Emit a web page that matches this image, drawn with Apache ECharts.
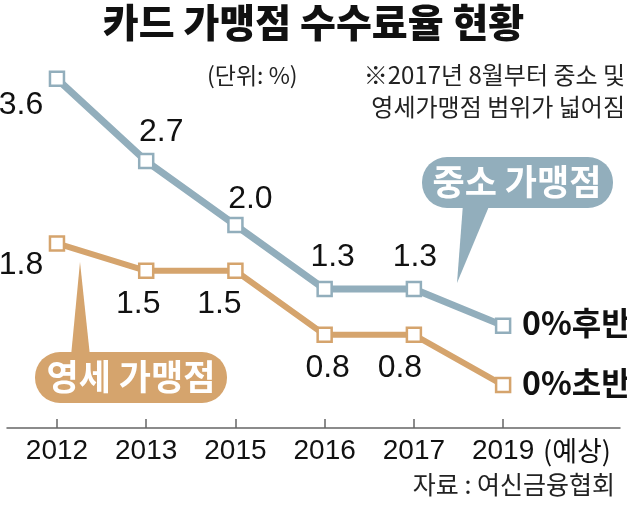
<!DOCTYPE html>
<html><head><meta charset="utf-8">
<script src="https://cdn.jsdelivr.net/npm/echarts@6/dist/echarts.min.js"></script>
<style>html,body{margin:0;padding:0;background:#fff}#c{width:627px;height:506px}</style>
</head><body><div id="c"></div>
<script>
const years = ['2012','2013','2015','2016','2017','2019'];
const midSizeValues = [3.6, 2.7, 2.0, 1.3, 1.3, 0.9];
const midSizeLabels = ['3.6','2.7','2.0','1.3','1.3','0%후반'];
const smallValues = [1.8, 1.5, 1.5, 0.8, 0.8, 0.25];
const smallLabels = ['1.8','1.5','1.5','0.8','0.8','0%초반'];

const BLUE = '#92aebc', ORANGE = '#d5a46d';
const KR = "'Noto Sans CJK KR', sans-serif";
const NUM = "'Liberation Sans', Arial, sans-serif";

const blueOffsets = [[-36,26],[15,-29],[15,-26],[8,-32],[1,-32],[19,-3]];
const orangeOffsets = [[-36,22],[-8,33],[-16,33],[3,33],[-14,33],[19,-2]];

function buildData(vals, labels, offs) {
  return vals.map((v, i) => {
    const last = i === vals.length - 1;
    return {
      value: [i, v],
      label: {
        show: true,
        position: 'inside',
        formatter: labels[i],
        offset: offs[i],
        align: last ? 'left' : 'center',
        verticalAlign: 'middle',
        color: '#111',
        fontSize: 32,
        fontWeight: last ? 'bold' : 'normal',
        fontFamily: last ? KR : NUM
      }
    };
  });
}

const chart = echarts.init(document.getElementById('c'));
chart.setOption({
  animation: false,
  backgroundColor: '#fff',
  title: {
    text: '카드 가맹점 수수료율 현황',
    left: 'center', top: -2,
    textStyle: { fontFamily: KR, fontSize: 39, fontWeight: 900, color: '#111' }
  },
  grid: { left: 7, right: 7, top: 42.3, bottom: 78, outerBoundsMode: 'none' },
  xAxis: {
    type: 'value', min: -0.56, max: 6.31,
    splitLine: { show: false },
    axisLine: { show: true, onZero: false, lineStyle: { color: '#666', width: 1.5 } },
    axisTick: { show: true, inside: true, length: 9, customValues: [0,1,2,3,4,5], lineStyle: { color: '#666', width: 1.5 } },
    axisLabel: {
      customValues: [0,1,2,3,4,5],
      margin: 9,
      hideOverlap: false,
      showMaxLabel: true,
      fontFamily: NUM, fontSize: 28, color: '#111',
      formatter: v => years[Math.round(v)]
    }
  },
  yAxis: { type: 'value', min: -0.22, max: 4.0, show: false, splitLine: { show: false } },
  series: [
    {
      type: 'line', name: '중소 가맹점',
      data: buildData(midSizeValues, midSizeLabels, blueOffsets),
      symbol: 'rect', symbolSize: 14,
      lineStyle: { color: BLUE, width: 7 },
      itemStyle: { color: '#fff', borderColor: BLUE, borderWidth: 2.5 },
      z: 3
    },
    {
      type: 'line', name: '영세 가맹점',
      data: buildData(smallValues, smallLabels, orangeOffsets),
      symbol: 'rect', symbolSize: 14,
      lineStyle: { color: ORANGE, width: 6 },
      itemStyle: { color: '#fff', borderColor: ORANGE, borderWidth: 2.5 },
      z: 3
    }
  ],
  graphic: [
    { type: 'text', left: 207, top: 64, style: { text: '(단위: %)', font: '23px ' + KR, fill: '#222' } },
    { type: 'text', right: 2, top: 63, style: { text: '※2017년 8월부터 중소 및', font: '24px ' + KR, fill: '#222', textAlign: 'right' } },
    { type: 'text', right: 2, top: 95, style: { text: '영세가맹점 범위가 넓어짐', font: '24px ' + KR, fill: '#222', textAlign: 'right' } },
    { type: 'text', x: 543, y: 451, style: { text: '(예상)', font: '27px ' + KR, fill: '#111', textVerticalAlign: 'middle' } },
    { type: 'text', right: 12, top: 472, style: { text: '자료 : 여신금융협회', font: '25px ' + KR, fill: '#222' } },
    // blue callout
    { type: 'polygon', shape: { points: [[463,204],[490,204],[457,283]] }, style: { fill: BLUE }, z: 10 },
    { type: 'rect', shape: { x: 422, y: 157, width: 191, height: 51, r: 25 }, style: { fill: BLUE }, z: 10 },
    { type: 'text', x: 517, y: 182, style: { text: '중소 가맹점', font: 'bold 35px ' + KR, fill: '#fff', textAlign: 'center', textVerticalAlign: 'middle' }, z: 11 },
    // orange callout
    { type: 'polygon', shape: { points: [[71,356],[90,356],[80,262]] }, style: { fill: ORANGE }, z: 10 },
    { type: 'rect', shape: { x: 35, y: 352, width: 192, height: 51, r: 25 }, style: { fill: ORANGE }, z: 10 },
    { type: 'text', x: 131, y: 377, style: { text: '영세 가맹점', font: 'bold 35px ' + KR, fill: '#fff', textAlign: 'center', textVerticalAlign: 'middle' }, z: 11 }
  ]
});
</script></body></html>
